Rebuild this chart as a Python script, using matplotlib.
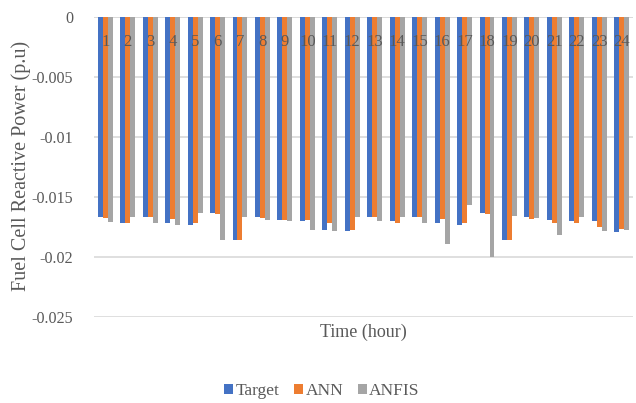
import matplotlib
matplotlib.use("Agg")
import matplotlib.pyplot as plt
import numpy as np

hours = [str(h) for h in range(1, 25)]
target = [-0.01667, -0.01714, -0.01667, -0.01714, -0.01730, -0.01630, -0.01860, -0.01667,
          -0.01694, -0.01700, -0.01772, -0.01783, -0.01667, -0.01700, -0.01667, -0.01714,
          -0.01730, -0.01630, -0.01860, -0.01667, -0.01694, -0.01700, -0.01700, -0.01790]
ann = [-0.01675, -0.01714, -0.01667, -0.01686, -0.01720, -0.01639, -0.01860, -0.01675,
       -0.01694, -0.01694, -0.01720, -0.01778, -0.01667, -0.01720, -0.01667, -0.01686,
       -0.01720, -0.01639, -0.01860, -0.01686, -0.01714, -0.01714, -0.01750, -0.01770]
anfis = [-0.01708, -0.01667, -0.01714, -0.01730, -0.01630, -0.01860, -0.01667, -0.01694,
         -0.01700, -0.01772, -0.01783, -0.01667, -0.01700, -0.01667, -0.01714, -0.01890,
         -0.01570, -0.02000, -0.01658, -0.01675, -0.01820, -0.01667, -0.01783, -0.01778]
yticks = [0, -0.005, -0.01, -0.015, -0.02, -0.025]
ytick_labels = ["0", "-0.005", "-0.01", "-0.015", "-0.02", "-0.025"]

colors = {"Target": "#4472C4", "ANN": "#ED7D31", "ANFIS": "#A5A5A5"}
text_color = "#595959"
grid_color = "#D9D9D9"
serif = ["Liberation Serif", "DejaVu Serif"]

fig = plt.figure(figsize=(6.36, 4.03), dpi=100)
ax = fig.add_axes([94 / 636, 1 - 317 / 403, (633 - 94) / 636, 300 / 403])

x = np.arange(len(hours))
w = 0.222
for i, (name, vals) in enumerate([("Target", target), ("ANN", ann), ("ANFIS", anfis)]):
    ax.bar(x + (i - 1) * w, vals, width=w, color=colors[name], label=name, zorder=3)

ax.set_xlim(-0.5, len(hours) - 0.5)
ax.set_ylim(-0.025, 0)
ax.set_yticks(yticks)
ax.set_yticklabels(ytick_labels, fontfamily=serif, fontsize=11.6, color=text_color)
ax.tick_params(axis="y", length=0, pad=15)
ax.set_xticks([])
ax.yaxis.grid(True, color=grid_color, linewidth=1.2, zorder=0)
for s in ["left", "right", "bottom", "top"]:
    ax.spines[s].set_visible(False)
ax.axhline(0, color=grid_color, linewidth=1.2, zorder=2)

# hour labels sit just under the zero line, over the bars
for xi, h in zip(x, hours):
    ax.text(xi, -0.0021, h, ha="center", va="center", fontfamily=serif,
            fontsize=12, color=text_color, zorder=4)

fig.text(21 / 636, 1 - 166 / 403, "Fuel Cell Reactive Power (p.u)", rotation=90,
         ha="center", va="center", fontfamily=serif, fontsize=14.5, color=text_color)
fig.text(363 / 636, 1 - 332 / 403, "Time (hour)", ha="center", va="center",
         fontfamily=serif, fontsize=13, color=text_color)

leg = fig.legend(loc="center", bbox_to_anchor=(322 / 636, 1 - 391 / 403), ncol=3,
                 frameon=False, prop={"family": serif, "size": 12.5},
                 handlelength=0.5, handleheight=0.5, handletextpad=0.15,
                 columnspacing=0.85)
for t in leg.get_texts():
    t.set_color(text_color)

fig.savefig("out.png", dpi=100, facecolor="white")
